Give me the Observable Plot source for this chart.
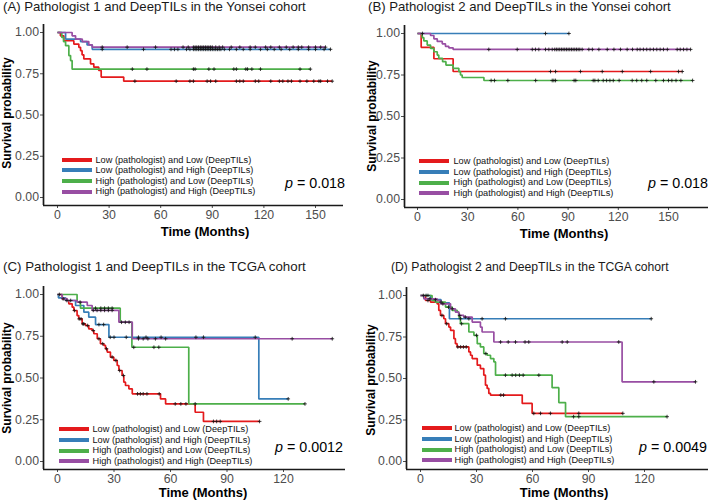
<!DOCTYPE html>
<html>
<head>
<meta charset="utf-8">
<script src="https://cdn.jsdelivr.net/npm/d3@7"></script>
<script src="https://cdn.jsdelivr.net/npm/@observablehq/plot@0.6"></script>
<style>
  body { margin: 0; background: #fff; }
  #root { position: relative; width: 709px; height: 500px; overflow: hidden; background: #fff;
          font-family: "Liberation Sans", Arial, sans-serif; }
  .abs { position: absolute; white-space: nowrap; }
  svg { overflow: visible; }
</style>
</head>
<body>
<div id="root"></div>
<script>
// ---------------- DATA ----------------
const GROUPS = [
  "Low (pathologist) and Low (DeepTILs)",
  "Low (pathologist) and High (DeepTILs)",
  "High (pathologist) and Low (DeepTILs)",
  "High (pathologist) and High (DeepTILs)"
];
const COLORS = ["#E41A1C", "#377EB8", "#4DAF4A", "#984EA3"];
const TITLES = [
  "(A) Pathologist 1 and DeepTILs in the Yonsei cohort",
  "(B) Pathologist 2 and DeepTILs in the Yonsei cohort",
  "(C) Pathologist 1 and DeepTILs in the TCGA cohort",
  "(D) Pathologist 2 and DeepTILs in the TCGA cohort"
];
const P_VALUES = ["0.018", "0.018", "0.0012", "0.0049"];
const Y_TICKS = [0, 0.25, 0.5, 0.75, 1];
const X_TICKS_YONSEI = [0, 30, 60, 90, 120, 150];
const X_TICKS_TCGA = [0, 30, 60, 90, 120];
const Y_LABEL = "Survival probability";
const X_LABEL = "Time (Months)";

// Panel A (t = event times, s = survival after event, c = censor times)
const A_LL_t = [1.7, 3.7, 9.5, 12.4, 13.4, 14.3, 15.3, 19.2, 21.1, 24, 25.4, 38.5];
const A_LL_s = [0.98, 0.95, 0.93, 0.91, 0.89, 0.865, 0.84, 0.81, 0.79, 0.77, 0.73, 0.705];
const A_LL_c = [45, 69, 77, 79, 87, 89, 92, 104, 106, 108, 115, 117, 124, 129, 131, 134, 136, 141, 145, 149, 152, 153, 157, 159.7];
const A_LH_t = [4.7, 13.4, 17.2, 20.2];
const A_LH_s = [0.96, 0.945, 0.925, 0.898];
const A_LH_c = [26, 50, 66, 68, 70, 75, 77, 79, 80, 81, 82, 83, 84, 85, 86, 87, 88, 89, 90, 91, 92, 93, 94, 95, 97, 100, 104, 108, 112, 118, 122, 126, 130, 135, 140, 146, 150, 155, 158.7];
const A_HL_t = [2.5, 3.5, 4.7, 6.6, 7.6, 8.5];
const A_HL_s = [0.97, 0.945, 0.92, 0.86, 0.83, 0.778];
const A_HL_c = [43.5, 52, 79, 80, 88, 91, 102.5, 104, 109.5, 110.5, 113, 118, 141, 147];
const A_HH_t = [8.5, 10.5, 14.4, 18.2, 20.2];
const A_HH_s = [0.98, 0.96, 0.945, 0.925, 0.911];
const A_HH_c = [26, 40.5, 57, 73, 76, 79, 80, 81, 82, 83, 84, 85, 86, 87, 88, 89, 90, 92, 94, 96, 101, 106, 112, 115, 121, 124, 129, 133, 137, 140, 142, 146, 150, 153, 155.8];

// Panel B
const B_LL_t = [2.2, 9.8, 21.3];
const B_LL_s = [0.917, 0.848, 0.771];
const B_LL_c = [79.5, 82.5, 97.4, 110.4, 122.4, 139.3, 156, 158.2];
const B_LH_t = [];
const B_LH_s = [];
const B_LH_c = [76.5, 90.5];
const B_HL_t = [2.8, 3.8, 5.8, 7.8, 9.8, 11.8, 12.7, 15, 17, 21.3, 24.7, 25.7, 26.7, 39.7];
const B_HL_s = [0.975, 0.955, 0.93, 0.91, 0.89, 0.87, 0.85, 0.83, 0.81, 0.79, 0.77, 0.75, 0.735, 0.717];
const B_HL_c = [44, 46, 54, 70.6, 80.5, 81.5, 82.5, 93.6, 94.6, 105, 106, 108, 111, 113, 115, 117, 120.5, 128.3, 131, 134, 137, 142.4, 147, 150, 152, 154.5, 157.4, 164.4];
const B_HH_t = [7.8, 9.8, 11.8, 14.8, 16.7, 18.7, 21.3];
const B_HH_s = [0.988, 0.968, 0.952, 0.938, 0.923, 0.914, 0.904];
const B_HH_c = [3, 42.6, 59.6, 68.6, 70.5, 72.5, 76.5, 78.5, 80.5, 82, 83, 84, 85, 86, 87, 88, 89, 90, 91, 92, 93, 94, 95, 96, 97, 98.4, 102.4, 104.5, 108.4, 113.4, 117.4, 121.3, 125.3, 128.5, 131.3, 133, 135, 137, 139, 141, 143, 145, 147, 149.3, 155.2, 157, 159, 161, 163.2];

// Panel C
const C_LL_t = [2.5, 4.2, 6.0, 7.8, 8.7, 10.4, 11.3, 13.1, 14.9, 16.6, 18.4, 19.3, 21.1, 22.8, 24.6, 25.5, 26.4, 28.1, 29.9, 31.7, 32.6, 34.3, 35.2, 36.1, 37.9, 39.7, 54.7, 57.4, 73.1, 77.5];
const C_LL_s = [0.974, 0.964, 0.944, 0.924, 0.904, 0.874, 0.854, 0.824, 0.814, 0.794, 0.784, 0.765, 0.735, 0.705, 0.695, 0.675, 0.655, 0.625, 0.605, 0.575, 0.545, 0.515, 0.475, 0.455, 0.435, 0.405, 0.375, 0.345, 0.295, 0.24];
const C_LL_c = [1, 3, 5, 9, 11.5, 12.5, 13.5, 14, 16, 19, 22, 24, 26, 29, 31, 33, 35, 42.5, 44, 45.5, 47.5, 54, 62.5, 65.5, 68.2, 82.8, 84.5, 86.4, 107.3];
const C_LH_t = [0.5, 4.2, 9.6, 14, 16.6, 20.2, 27.3, 106.9];
const C_LH_s = [0.98, 0.964, 0.934, 0.894, 0.864, 0.82, 0.744, 0.375];
const C_LH_c = [22, 24.5, 28, 30, 36.5, 43, 47, 55, 73.5, 77.5, 105, 122.5];
const C_HL_t = [10.4, 12.2, 33.3, 39.5, 69.7];
const C_HL_s = [0.955, 0.918, 0.835, 0.684, 0.345];
const C_HL_c = [20.2, 23, 25, 27, 29, 40.5, 51.2, 53.8, 73.1, 131.4];
const C_HH_t = [2.5, 5.1, 10.4, 15.8, 18.4, 32.6, 39.7];
const C_HH_s = [0.975, 0.964, 0.954, 0.934, 0.905, 0.834, 0.735];
const C_HH_c = [7, 12, 19, 21, 23, 25, 27, 29, 34, 36, 38, 43, 45.5, 48, 52, 57.4, 124.6, 145.9];

// Panel D
const D_LL_t = [2.7, 5.4, 8.9, 9.8, 10.7, 12.5, 13.4, 15.2, 16.1, 17.9, 18.7, 19.6, 25.9, 26.8, 27.7, 30.4, 32.1, 33.9, 34.8, 35.7, 36.6, 37.5, 54.5, 59.8];
const D_LL_s = [0.97, 0.96, 0.95, 0.91, 0.88, 0.86, 0.83, 0.81, 0.79, 0.74, 0.71, 0.69, 0.66, 0.64, 0.62, 0.58, 0.56, 0.52, 0.46, 0.44, 0.41, 0.40, 0.35, 0.29];
const D_LL_c = [1.5, 4, 11.5, 14, 20, 21.5, 23, 24.5, 43, 44.5, 60.7, 64.3, 69.6, 84.8, 108.4];
const D_LH_t = [5.5, 11, 15.5];
const D_LH_s = [0.975, 0.955, 0.86];
const D_LH_c = [3, 8, 21.4, 25.9, 33, 45.5, 123.6];
const D_HL_t = [6.2, 8, 13.4, 17, 19.7, 20.5, 21.4, 25.9, 28.6, 30.4, 32.1, 33.9, 35.7, 37.5, 39.3, 40.2, 70.5, 74.1, 77.7];
const D_HL_s = [0.97, 0.96, 0.93, 0.91, 0.90, 0.87, 0.83, 0.78, 0.76, 0.71, 0.69, 0.65, 0.64, 0.62, 0.60, 0.52, 0.445, 0.355, 0.27];
const D_HL_c = [4, 11, 15, 22, 30, 35, 45.5, 49.1, 51, 53, 55, 63.4, 82, 84.8, 132.1];
const D_HH_t = [1.8, 8.9, 10.7, 16.1, 18.7, 20.5, 23.2, 27.7, 32.1, 33, 39.3, 108];
const D_HH_s = [0.98, 0.97, 0.95, 0.92, 0.90, 0.88, 0.87, 0.84, 0.81, 0.78, 0.72, 0.48];
const D_HH_c = [5, 12, 17, 21, 24, 42.9, 47, 50.9, 56, 58, 75.9, 78.6, 106.2, 125, 147.3];

// ---------------- LAYOUT (pixel geometry of each panel) ----------------
const PANELS = [
  { curves: [[A_LL_t, A_LL_s, A_LL_c], [A_LH_t, A_LH_s, A_LH_c], [A_HL_t, A_HL_s, A_HL_c], [A_HH_t, A_HH_s, A_HH_c]],
    xTicks: X_TICKS_YONSEI, L: 0, T: 0, W: 355, H: 245, axL: 43, axR: 343, axT: 24, axB: 205, x0: 57, xRefV: 150, xRefPx: 315, y1: 32, y0: 197,
    title: { x: 3, y: 7, size: 13.2 }, ylab: { x: 7, y: 113 }, xlab: { x: 205, y: 231 },
    leg: { x: 62, cy: 175.7, gap: 3.5 }, p: { r: 345, y: 183 } },
  { curves: [[B_LL_t, B_LL_s, B_LL_c], [B_LH_t, B_LH_s, B_LH_c], [B_HL_t, B_HL_s, B_HL_c], [B_HH_t, B_HH_s, B_HH_c]],
    xTicks: X_TICKS_YONSEI, L: 355, T: 0, W: 354, H: 245, axL: 404, axR: 708, axT: 25, axB: 207, x0: 417, xRefV: 150, xRefPx: 668, y1: 33, y0: 199,
    title: { x: 368, y: 7, size: 13.2 }, ylab: { x: 372, y: 116 }, xlab: { x: 564, y: 233 },
    leg: { x: 419, cy: 177.4, gap: 4.5 }, p: { r: 708, y: 183 } },
  { curves: [[C_LL_t, C_LL_s, C_LL_c], [C_LH_t, C_LH_s, C_LH_c], [C_HL_t, C_HL_s, C_HL_c], [C_HH_t, C_HH_s, C_HH_c]],
    xTicks: X_TICKS_TCGA, L: 0, T: 250, W: 355, H: 250, axL: 43, axR: 345, axT: 286, axB: 469, x0: 57, xRefV: 120, xRefPx: 283, y1: 294, y0: 461,
    title: { x: 3, y: 267, size: 13.3 }, ylab: { x: 7, y: 378 }, xlab: { x: 203, y: 492 },
    leg: { x: 59, cy: 445.4, gap: 3.5 }, p: { r: 343, y: 447 } },
  { curves: [[D_LL_t, D_LL_s, D_LL_c], [D_LH_t, D_LH_s, D_LH_c], [D_HL_t, D_HL_s, D_HL_c], [D_HH_t, D_HH_s, D_HH_c]],
    xTicks: X_TICKS_TCGA, L: 355, T: 250, W: 354, H: 250, axL: 406, axR: 708, axT: 287, axB: 469, x0: 420, xRefV: 120, xRefPx: 644, y1: 295, y0: 461,
    title: { x: 391, y: 267, size: 12.2 }, ylab: { x: 371, y: 380 }, xlab: { x: 564, y: 492 },
    leg: { x: 422, cy: 444.4, gap: 2.5 }, p: { r: 707, y: 447 } }
];
const LEG_ROW = 10.6;
const LEG_FONT = 9.2;

const root = document.getElementById("root");
const FONT = '"Liberation Sans", Arial, sans-serif';

function addDiv(html, css) {
  const d = document.createElement("div");
  d.className = "abs";
  d.innerHTML = html;
  Object.assign(d.style, css);
  root.appendChild(d);
  return d;
}

function buildRows(curves) {
  const lines = [], cens = [];
  curves.forEach(([t, s, c], gi) => {
    const g = GROUPS[gi];
    const last = s.length ? s[s.length - 1] : 1;
    const end = Math.max(t.length ? t[t.length - 1] : 0, c.length ? c[c.length - 1] : 0);
    lines.push({ time: 0, surv: 1, group: g });
    t.forEach((ti, i) => lines.push({ time: ti, surv: s[i], group: g }));
    lines.push({ time: end, surv: last, group: g });
    c.forEach(ci => {
      let v = 1;
      t.forEach((ti, i) => { if (ti <= ci) v = s[i]; });
      cens.push({ time: ci, surv: v, group: g });
    });
  });
  return { lines, cens };
}

PANELS.forEach((P, pi) => {
  const kx = (P.xRefPx - P.x0) / P.xRefV;
  const xDomain = [(P.axL - P.x0) / kx, (P.axR - P.x0) / kx];
  const ky = P.y0 - P.y1;
  const yDomain = [(P.y0 - P.axB) / ky, (P.y0 - P.axT) / ky];
  const { lines, cens } = buildRows(P.curves);

  const chart = Plot.plot({
    width: P.W, height: P.H,
    marginLeft: P.axL - P.L, marginRight: P.L + P.W - P.axR,
    marginTop: P.axT - P.T, marginBottom: P.T + P.H - P.axB,
    style: { background: "transparent", fontFamily: FONT, overflow: "visible" },
    x: { domain: xDomain },
    y: { domain: yDomain },
    color: { domain: GROUPS, range: COLORS },
    marks: [
      Plot.axisY({ ticks: Y_TICKS, tickFormat: d3.format(".2f"), tickSize: 3, tickPadding: 1.5,
                   fontSize: 12.3, color: "#4d4d4d", label: null }),
      Plot.axisX({ ticks: P.xTicks, tickFormat: d3.format("d"), tickSize: 3, tickPadding: 1.5,
                   fontSize: 12.3, color: "#4d4d4d", label: null }),
      Plot.line(lines, { x: "time", y: "surv", z: "group", stroke: "group", curve: "step-after",
                         strokeWidth: 1.7, strokeLinejoin: "miter", strokeLinecap: "butt" }),
      Plot.dot(cens, { x: "time", y: "surv", symbol: "plus", r: 1.3, stroke: "#111", strokeWidth: 0.8 }),
      Plot.ruleX([xDomain[0]], { stroke: "#1a1a1a", strokeWidth: 1.7 }),
      Plot.ruleY([yDomain[0]], { stroke: "#1a1a1a", strokeWidth: 1.7 })
    ]
  });
  chart.style.position = "absolute";
  chart.style.left = P.L + "px";
  chart.style.top = P.T + "px";
  root.appendChild(chart);

  // title
  addDiv(TITLES[pi], { left: P.title.x + "px", top: P.title.y + "px", transform: "translateY(-50%)",
                       fontSize: P.title.size + "px", color: "#1a1a1a", lineHeight: "1" });
  // y label
  addDiv(Y_LABEL, { left: P.ylab.x + "px", top: P.ylab.y + "px", transform: "translate(-50%,-50%) rotate(-90deg)",
                    fontSize: "12px", fontWeight: "bold", color: "#000", lineHeight: "1" });
  // x label
  addDiv(X_LABEL, { left: P.xlab.x + "px", top: P.xlab.y + "px", transform: "translate(-50%,-50%)",
                    fontSize: "13px", fontWeight: "bold", color: "#000", lineHeight: "1" });
  // p value
  addDiv('<i>p</i> = ' + P_VALUES[pi], { right: (709 - P.p.r) + "px", top: P.p.y + "px", transform: "translateY(-50%)",
                    fontSize: "14.3px", color: "#000", lineHeight: "1" });
  // legend
  GROUPS.forEach((g, gi) => {
    addDiv(
      `<span style="display:inline-block;width:30px;height:4px;background:${COLORS[gi]};margin-right:${P.leg.gap}px"></span>` +
      `<span>${g}</span>`,
      { left: P.leg.x + "px", top: (P.leg.cy - 2 * LEG_ROW + gi * LEG_ROW) + "px", height: LEG_ROW + "px",
        lineHeight: LEG_ROW + "px", fontSize: LEG_FONT + "px", color: "#111", display: "flex", alignItems: "center" });
  });
});
</script>
</body>
</html>
